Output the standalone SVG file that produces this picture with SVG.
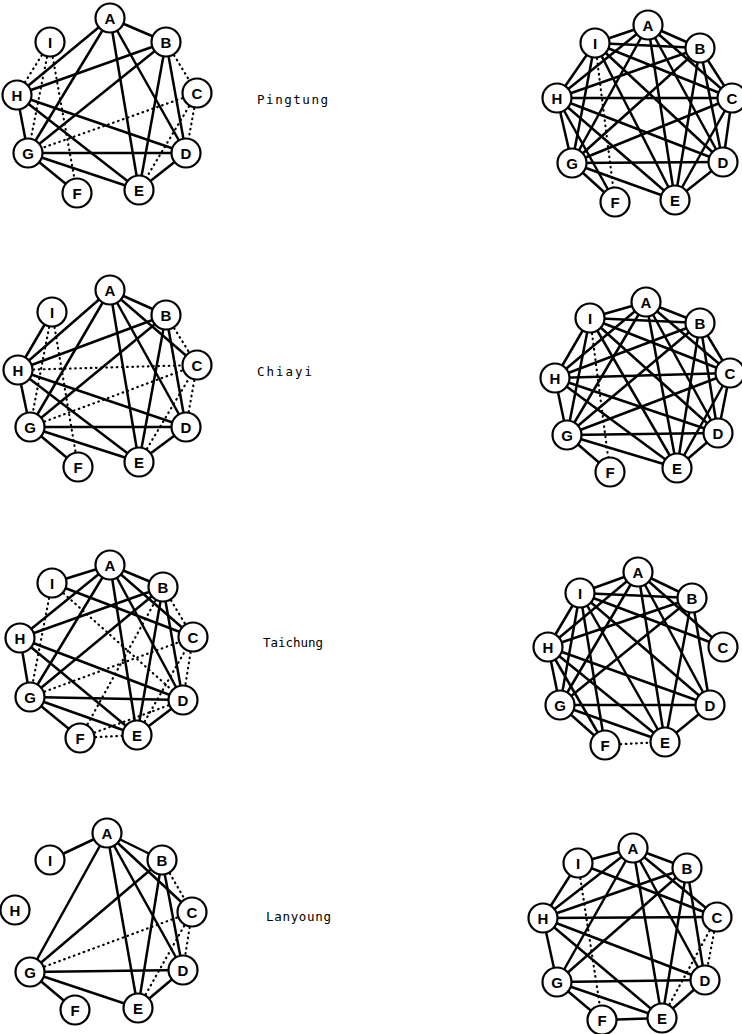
<svg xmlns="http://www.w3.org/2000/svg" width="742" height="1034" viewBox="0 0 742 1034">
<style>
.s{stroke:#000;stroke-width:2.5;fill:none}
.d{stroke:#000;stroke-width:2.2;fill:none;stroke-dasharray:0.6 4.6;stroke-linecap:round}
.n circle{fill:#fff;stroke:#000;stroke-width:2.2}
.n text{font-family:"Liberation Sans",Arial,sans-serif;font-weight:bold;font-size:15px;text-anchor:middle;fill:#000}
.lbl{font-family:"DejaVu Sans Mono","Liberation Mono",monospace;font-size:12.5px;fill:#000}
</style>
<rect width="742" height="1034" fill="#fff"/>
<g id="connectors">
<g id="c-pingtung-left">
<line class="s" x1="110" y1="18" x2="166" y2="42"/><line class="s" x1="110" y1="18" x2="17" y2="95"/><line class="s" x1="110" y1="18" x2="28" y2="153"/><line class="s" x1="110" y1="18" x2="139" y2="190"/><line class="s" x1="110" y1="18" x2="186" y2="153"/>
<line class="s" x1="166" y1="42" x2="17" y2="95"/><line class="s" x1="166" y1="42" x2="28" y2="153"/><line class="s" x1="166" y1="42" x2="139" y2="190"/><line class="s" x1="166" y1="42" x2="186" y2="153"/>
<line class="s" x1="17" y1="95" x2="28" y2="153"/><line class="s" x1="17" y1="95" x2="186" y2="153"/><line class="s" x1="17" y1="95" x2="139" y2="190"/>
<line class="s" x1="28" y1="153" x2="186" y2="153"/><line class="s" x1="28" y1="153" x2="139" y2="190"/><line class="s" x1="28" y1="153" x2="77" y2="193"/><line class="s" x1="186" y1="153" x2="139" y2="190"/>
<line class="d" x1="50" y1="42" x2="17" y2="95"/><line class="d" x1="50" y1="42" x2="28" y2="153"/><line class="d" x1="50" y1="42" x2="77" y2="193"/><line class="d" x1="166" y1="42" x2="197" y2="93"/><line class="d" x1="197" y1="93" x2="186" y2="153"/><line class="d" x1="197" y1="93" x2="28" y2="153"/><line class="d" x1="197" y1="93" x2="139" y2="190"/>
</g>
<g id="c-pingtung-right">
<line class="s" x1="648" y1="25" x2="595" y2="43"/><line class="s" x1="648" y1="25" x2="700" y2="48"/><line class="s" x1="648" y1="25" x2="557" y2="98"/><line class="s" x1="648" y1="25" x2="572" y2="163"/><line class="s" x1="648" y1="25" x2="675" y2="200"/><line class="s" x1="648" y1="25" x2="723" y2="162"/><line class="s" x1="648" y1="25" x2="732" y2="98"/>
<line class="s" x1="595" y1="43" x2="700" y2="48"/><line class="s" x1="595" y1="43" x2="732" y2="98"/><line class="s" x1="595" y1="43" x2="723" y2="162"/><line class="s" x1="595" y1="43" x2="675" y2="200"/><line class="s" x1="595" y1="43" x2="557" y2="98"/><line class="s" x1="595" y1="43" x2="572" y2="163"/>
<line class="s" x1="557" y1="98" x2="732" y2="98"/><line class="s" x1="557" y1="98" x2="700" y2="48"/><line class="s" x1="557" y1="98" x2="723" y2="162"/><line class="s" x1="557" y1="98" x2="675" y2="200"/><line class="s" x1="557" y1="98" x2="572" y2="163"/><line class="s" x1="557" y1="98" x2="615" y2="202"/>
<line class="s" x1="572" y1="163" x2="700" y2="48"/><line class="s" x1="572" y1="163" x2="732" y2="98"/><line class="s" x1="572" y1="163" x2="723" y2="162"/><line class="s" x1="572" y1="163" x2="675" y2="200"/><line class="s" x1="572" y1="163" x2="615" y2="202"/>
<line class="s" x1="700" y1="48" x2="732" y2="98"/><line class="s" x1="700" y1="48" x2="723" y2="162"/><line class="s" x1="700" y1="48" x2="675" y2="200"/><line class="s" x1="732" y1="98" x2="723" y2="162"/><line class="s" x1="732" y1="98" x2="675" y2="200"/><line class="s" x1="723" y1="162" x2="675" y2="200"/>
<line class="d" x1="595" y1="43" x2="615" y2="202"/>
</g>
<g id="c-chiayi-left">
<line class="s" x1="110" y1="290" x2="166" y2="315"/><line class="s" x1="110" y1="290" x2="18" y2="370"/><line class="s" x1="110" y1="290" x2="30" y2="427"/><line class="s" x1="110" y1="290" x2="139" y2="462"/><line class="s" x1="110" y1="290" x2="186" y2="427"/><line class="s" x1="110" y1="290" x2="197" y2="365"/>
<line class="s" x1="52" y1="312" x2="18" y2="370"/><line class="s" x1="166" y1="315" x2="18" y2="370"/><line class="s" x1="166" y1="315" x2="30" y2="427"/><line class="s" x1="166" y1="315" x2="139" y2="462"/><line class="s" x1="166" y1="315" x2="186" y2="427"/>
<line class="s" x1="18" y1="370" x2="30" y2="427"/><line class="s" x1="18" y1="370" x2="186" y2="427"/><line class="s" x1="18" y1="370" x2="139" y2="462"/><line class="s" x1="30" y1="427" x2="186" y2="427"/><line class="s" x1="30" y1="427" x2="139" y2="462"/><line class="s" x1="30" y1="427" x2="78" y2="467"/><line class="s" x1="186" y1="427" x2="139" y2="462"/>
<line class="d" x1="52" y1="312" x2="78" y2="467"/><line class="d" x1="52" y1="312" x2="30" y2="427"/><line class="d" x1="18" y1="370" x2="197" y2="365"/><line class="d" x1="166" y1="315" x2="197" y2="365"/><line class="d" x1="197" y1="365" x2="186" y2="427"/><line class="d" x1="30" y1="427" x2="197" y2="365"/><line class="d" x1="139" y1="462" x2="197" y2="365"/>
</g>
<g id="c-chiayi-right">
<line class="s" x1="646" y1="302" x2="590" y2="318"/><line class="s" x1="646" y1="302" x2="700" y2="323"/><line class="s" x1="646" y1="302" x2="555" y2="378"/><line class="s" x1="646" y1="302" x2="567" y2="435"/><line class="s" x1="646" y1="302" x2="677" y2="468"/><line class="s" x1="646" y1="302" x2="718" y2="433"/><line class="s" x1="646" y1="302" x2="730" y2="373"/>
<line class="s" x1="590" y1="318" x2="700" y2="323"/><line class="s" x1="590" y1="318" x2="730" y2="373"/><line class="s" x1="590" y1="318" x2="718" y2="433"/><line class="s" x1="590" y1="318" x2="677" y2="468"/><line class="s" x1="590" y1="318" x2="555" y2="378"/><line class="s" x1="590" y1="318" x2="567" y2="435"/>
<line class="s" x1="555" y1="378" x2="730" y2="373"/><line class="s" x1="555" y1="378" x2="700" y2="323"/><line class="s" x1="555" y1="378" x2="718" y2="433"/><line class="s" x1="555" y1="378" x2="677" y2="468"/><line class="s" x1="555" y1="378" x2="567" y2="435"/>
<line class="s" x1="567" y1="435" x2="700" y2="323"/><line class="s" x1="567" y1="435" x2="730" y2="373"/><line class="s" x1="567" y1="435" x2="718" y2="433"/><line class="s" x1="567" y1="435" x2="677" y2="468"/><line class="s" x1="567" y1="435" x2="610" y2="472"/>
<line class="s" x1="700" y1="323" x2="730" y2="373"/><line class="s" x1="700" y1="323" x2="718" y2="433"/><line class="s" x1="700" y1="323" x2="677" y2="468"/><line class="s" x1="730" y1="373" x2="718" y2="433"/><line class="s" x1="730" y1="373" x2="677" y2="468"/><line class="s" x1="718" y1="433" x2="677" y2="468"/>
<line class="d" x1="590" y1="318" x2="610" y2="472"/>
</g>
<g id="c-taichung-left">
<line class="s" x1="110" y1="565" x2="52" y2="583"/><line class="s" x1="110" y1="565" x2="163" y2="587"/><line class="s" x1="110" y1="565" x2="20" y2="638"/><line class="s" x1="110" y1="565" x2="30" y2="697"/><line class="s" x1="110" y1="565" x2="137" y2="735"/><line class="s" x1="110" y1="565" x2="183" y2="700"/><line class="s" x1="110" y1="565" x2="193" y2="637"/>
<line class="s" x1="52" y1="583" x2="193" y2="637"/><line class="s" x1="163" y1="587" x2="20" y2="638"/><line class="s" x1="163" y1="587" x2="30" y2="697"/><line class="s" x1="163" y1="587" x2="137" y2="735"/><line class="s" x1="163" y1="587" x2="183" y2="700"/>
<line class="s" x1="20" y1="638" x2="30" y2="697"/><line class="s" x1="20" y1="638" x2="183" y2="700"/><line class="s" x1="20" y1="638" x2="137" y2="735"/><line class="s" x1="30" y1="697" x2="183" y2="700"/><line class="s" x1="30" y1="697" x2="137" y2="735"/><line class="s" x1="30" y1="697" x2="80" y2="738"/><line class="s" x1="183" y1="700" x2="137" y2="735"/>
<line class="d" x1="163" y1="587" x2="193" y2="637"/><line class="d" x1="193" y1="637" x2="183" y2="700"/><line class="d" x1="80" y1="738" x2="137" y2="735"/><line class="d" x1="52" y1="583" x2="183" y2="700"/><line class="d" x1="52" y1="583" x2="30" y2="697"/><line class="d" x1="30" y1="697" x2="193" y2="637"/><line class="d" x1="80" y1="738" x2="183" y2="700"/><line class="d" x1="137" y1="735" x2="193" y2="637"/><line class="d" x1="163" y1="587" x2="80" y2="738"/>
</g>
<g id="c-taichung-right">
<line class="s" x1="638" y1="572" x2="580" y2="593"/><line class="s" x1="638" y1="572" x2="692" y2="598"/><line class="s" x1="638" y1="572" x2="548" y2="647"/><line class="s" x1="638" y1="572" x2="560" y2="705"/><line class="s" x1="638" y1="572" x2="665" y2="742"/><line class="s" x1="638" y1="572" x2="710" y2="705"/><line class="s" x1="638" y1="572" x2="723" y2="647"/>
<line class="s" x1="580" y1="593" x2="692" y2="598"/><line class="s" x1="580" y1="593" x2="723" y2="647"/><line class="s" x1="580" y1="593" x2="710" y2="705"/><line class="s" x1="580" y1="593" x2="665" y2="742"/><line class="s" x1="580" y1="593" x2="605" y2="745"/><line class="s" x1="580" y1="593" x2="560" y2="705"/><line class="s" x1="580" y1="593" x2="548" y2="647"/>
<line class="s" x1="548" y1="647" x2="692" y2="598"/><line class="s" x1="548" y1="647" x2="710" y2="705"/><line class="s" x1="548" y1="647" x2="665" y2="742"/><line class="s" x1="548" y1="647" x2="560" y2="705"/><line class="s" x1="548" y1="647" x2="605" y2="745"/>
<line class="s" x1="560" y1="705" x2="692" y2="598"/><line class="s" x1="560" y1="705" x2="710" y2="705"/><line class="s" x1="560" y1="705" x2="665" y2="742"/><line class="s" x1="560" y1="705" x2="605" y2="745"/>
<line class="s" x1="692" y1="598" x2="710" y2="705"/><line class="s" x1="692" y1="598" x2="665" y2="742"/><line class="s" x1="710" y1="705" x2="665" y2="742"/>
<line class="d" x1="605" y1="745" x2="665" y2="742"/>
</g>
<g id="c-lanyoung-left">
<line class="s" x1="107" y1="833" x2="50" y2="860"/><line class="s" x1="107" y1="833" x2="162" y2="860"/><line class="s" x1="107" y1="833" x2="30" y2="972"/><line class="s" x1="107" y1="833" x2="138" y2="1008"/><line class="s" x1="107" y1="833" x2="183" y2="970"/><line class="s" x1="107" y1="833" x2="192" y2="912"/>
<line class="s" x1="162" y1="860" x2="30" y2="972"/><line class="s" x1="162" y1="860" x2="138" y2="1008"/><line class="s" x1="162" y1="860" x2="183" y2="970"/>
<line class="s" x1="30" y1="972" x2="183" y2="970"/><line class="s" x1="30" y1="972" x2="138" y2="1008"/><line class="s" x1="30" y1="972" x2="75" y2="1010"/><line class="s" x1="183" y1="970" x2="138" y2="1008"/>
<line class="d" x1="162" y1="860" x2="192" y2="912"/><line class="d" x1="192" y1="912" x2="183" y2="970"/><line class="d" x1="30" y1="972" x2="192" y2="912"/><line class="d" x1="138" y1="1008" x2="192" y2="912"/>
</g>
<g id="c-lanyoung-right">
<line class="s" x1="633" y1="848" x2="578" y2="863"/><line class="s" x1="633" y1="848" x2="687" y2="868"/><line class="s" x1="633" y1="848" x2="543" y2="918"/><line class="s" x1="633" y1="848" x2="557" y2="982"/><line class="s" x1="633" y1="848" x2="662" y2="1018"/><line class="s" x1="633" y1="848" x2="705" y2="980"/><line class="s" x1="633" y1="848" x2="717" y2="917"/>
<line class="s" x1="578" y1="863" x2="543" y2="918"/><line class="s" x1="578" y1="863" x2="717" y2="917"/>
<line class="s" x1="543" y1="918" x2="687" y2="868"/><line class="s" x1="543" y1="918" x2="717" y2="917"/><line class="s" x1="543" y1="918" x2="705" y2="980"/><line class="s" x1="543" y1="918" x2="662" y2="1018"/><line class="s" x1="543" y1="918" x2="557" y2="982"/>
<line class="s" x1="557" y1="982" x2="687" y2="868"/><line class="s" x1="557" y1="982" x2="705" y2="980"/><line class="s" x1="557" y1="982" x2="662" y2="1018"/><line class="s" x1="557" y1="982" x2="602" y2="1020"/>
<line class="s" x1="687" y1="868" x2="662" y2="1018"/><line class="s" x1="687" y1="868" x2="705" y2="980"/><line class="s" x1="705" y1="980" x2="662" y2="1018"/><line class="s" x1="662" y1="1018" x2="602" y2="1020"/>
<line class="d" x1="578" y1="863" x2="602" y2="1020"/><line class="d" x1="717" y1="917" x2="705" y2="980"/><line class="d" x1="717" y1="917" x2="662" y2="1018"/>
</g>
</g>

<g id="pingtung-left">
<g id="pl-A" class="n"><circle cx="110" cy="18" r="14.5"/><text x="110" y="23.5">A</text></g>
<g id="pl-B" class="n"><circle cx="166" cy="42" r="14.5"/><text x="166" y="47.5">B</text></g>
<g id="pl-C" class="n"><circle cx="197" cy="93" r="14.5"/><text x="197" y="98.5">C</text></g>
<g id="pl-D" class="n"><circle cx="186" cy="153" r="14.5"/><text x="186" y="158.5">D</text></g>
<g id="pl-E" class="n"><circle cx="139" cy="190" r="14.5"/><text x="139" y="195.5">E</text></g>
<g id="pl-F" class="n"><circle cx="77" cy="193" r="14.5"/><text x="77" y="198.5">F</text></g>
<g id="pl-G" class="n"><circle cx="28" cy="153" r="14.5"/><text x="28" y="158.5">G</text></g>
<g id="pl-H" class="n"><circle cx="17" cy="95" r="14.5"/><text x="17" y="100.5">H</text></g>
<g id="pl-I" class="n"><circle cx="50" cy="42" r="14.5"/><text x="50" y="47.5">I</text></g>
</g>
<g id="pingtung-right">
<g id="pr-A" class="n"><circle cx="648" cy="25" r="14.5"/><text x="648" y="30.5">A</text></g>
<g id="pr-B" class="n"><circle cx="700" cy="48" r="14.5"/><text x="700" y="53.5">B</text></g>
<g id="pr-C" class="n"><circle cx="732" cy="98" r="14.5"/><text x="732" y="103.5">C</text></g>
<g id="pr-D" class="n"><circle cx="723" cy="162" r="14.5"/><text x="723" y="167.5">D</text></g>
<g id="pr-E" class="n"><circle cx="675" cy="200" r="14.5"/><text x="675" y="205.5">E</text></g>
<g id="pr-F" class="n"><circle cx="615" cy="202" r="14.5"/><text x="615" y="207.5">F</text></g>
<g id="pr-G" class="n"><circle cx="572" cy="163" r="14.5"/><text x="572" y="168.5">G</text></g>
<g id="pr-H" class="n"><circle cx="557" cy="98" r="14.5"/><text x="557" y="103.5">H</text></g>
<g id="pr-I" class="n"><circle cx="595" cy="43" r="14.5"/><text x="595" y="48.5">I</text></g>
</g>
<g id="chiayi-left">
<g id="cl-A" class="n"><circle cx="110" cy="290" r="14.5"/><text x="110" y="295.5">A</text></g>
<g id="cl-B" class="n"><circle cx="166" cy="315" r="14.5"/><text x="166" y="320.5">B</text></g>
<g id="cl-C" class="n"><circle cx="197" cy="365" r="14.5"/><text x="197" y="370.5">C</text></g>
<g id="cl-D" class="n"><circle cx="186" cy="427" r="14.5"/><text x="186" y="432.5">D</text></g>
<g id="cl-E" class="n"><circle cx="139" cy="462" r="14.5"/><text x="139" y="467.5">E</text></g>
<g id="cl-F" class="n"><circle cx="78" cy="467" r="14.5"/><text x="78" y="472.5">F</text></g>
<g id="cl-G" class="n"><circle cx="30" cy="427" r="14.5"/><text x="30" y="432.5">G</text></g>
<g id="cl-H" class="n"><circle cx="18" cy="370" r="14.5"/><text x="18" y="375.5">H</text></g>
<g id="cl-I" class="n"><circle cx="52" cy="312" r="14.5"/><text x="52" y="317.5">I</text></g>
</g>
<g id="chiayi-right">
<g id="cr-A" class="n"><circle cx="646" cy="302" r="14.5"/><text x="646" y="307.5">A</text></g>
<g id="cr-B" class="n"><circle cx="700" cy="323" r="14.5"/><text x="700" y="328.5">B</text></g>
<g id="cr-C" class="n"><circle cx="730" cy="373" r="14.5"/><text x="730" y="378.5">C</text></g>
<g id="cr-D" class="n"><circle cx="718" cy="433" r="14.5"/><text x="718" y="438.5">D</text></g>
<g id="cr-E" class="n"><circle cx="677" cy="468" r="14.5"/><text x="677" y="473.5">E</text></g>
<g id="cr-F" class="n"><circle cx="610" cy="472" r="14.5"/><text x="610" y="477.5">F</text></g>
<g id="cr-G" class="n"><circle cx="567" cy="435" r="14.5"/><text x="567" y="440.5">G</text></g>
<g id="cr-H" class="n"><circle cx="555" cy="378" r="14.5"/><text x="555" y="383.5">H</text></g>
<g id="cr-I" class="n"><circle cx="590" cy="318" r="14.5"/><text x="590" y="323.5">I</text></g>
</g>
<g id="taichung-left">
<g id="tl-A" class="n"><circle cx="110" cy="565" r="14.5"/><text x="110" y="570.5">A</text></g>
<g id="tl-B" class="n"><circle cx="163" cy="587" r="14.5"/><text x="163" y="592.5">B</text></g>
<g id="tl-C" class="n"><circle cx="193" cy="637" r="14.5"/><text x="193" y="642.5">C</text></g>
<g id="tl-D" class="n"><circle cx="183" cy="700" r="14.5"/><text x="183" y="705.5">D</text></g>
<g id="tl-E" class="n"><circle cx="137" cy="735" r="14.5"/><text x="137" y="740.5">E</text></g>
<g id="tl-F" class="n"><circle cx="80" cy="738" r="14.5"/><text x="80" y="743.5">F</text></g>
<g id="tl-G" class="n"><circle cx="30" cy="697" r="14.5"/><text x="30" y="702.5">G</text></g>
<g id="tl-H" class="n"><circle cx="20" cy="638" r="14.5"/><text x="20" y="643.5">H</text></g>
<g id="tl-I" class="n"><circle cx="52" cy="583" r="14.5"/><text x="52" y="588.5">I</text></g>
</g>
<g id="taichung-right">
<g id="tr-A" class="n"><circle cx="638" cy="572" r="14.5"/><text x="638" y="577.5">A</text></g>
<g id="tr-B" class="n"><circle cx="692" cy="598" r="14.5"/><text x="692" y="603.5">B</text></g>
<g id="tr-C" class="n"><circle cx="723" cy="647" r="14.5"/><text x="723" y="652.5">C</text></g>
<g id="tr-D" class="n"><circle cx="710" cy="705" r="14.5"/><text x="710" y="710.5">D</text></g>
<g id="tr-E" class="n"><circle cx="665" cy="742" r="14.5"/><text x="665" y="747.5">E</text></g>
<g id="tr-F" class="n"><circle cx="605" cy="745" r="14.5"/><text x="605" y="750.5">F</text></g>
<g id="tr-G" class="n"><circle cx="560" cy="705" r="14.5"/><text x="560" y="710.5">G</text></g>
<g id="tr-H" class="n"><circle cx="548" cy="647" r="14.5"/><text x="548" y="652.5">H</text></g>
<g id="tr-I" class="n"><circle cx="580" cy="593" r="14.5"/><text x="580" y="598.5">I</text></g>
</g>
<g id="lanyoung-left">
<g id="ll-A" class="n"><circle cx="107" cy="833" r="14.5"/><text x="107" y="838.5">A</text></g>
<g id="ll-B" class="n"><circle cx="162" cy="860" r="14.5"/><text x="162" y="865.5">B</text></g>
<g id="ll-C" class="n"><circle cx="192" cy="912" r="14.5"/><text x="192" y="917.5">C</text></g>
<g id="ll-D" class="n"><circle cx="183" cy="970" r="14.5"/><text x="183" y="975.5">D</text></g>
<g id="ll-E" class="n"><circle cx="138" cy="1008" r="14.5"/><text x="138" y="1013.5">E</text></g>
<g id="ll-F" class="n"><circle cx="75" cy="1010" r="14.5"/><text x="75" y="1015.5">F</text></g>
<g id="ll-G" class="n"><circle cx="30" cy="972" r="14.5"/><text x="30" y="977.5">G</text></g>
<g id="ll-H" class="n"><circle cx="15" cy="910" r="14.5"/><text x="15" y="915.5">H</text></g>
<g id="ll-I" class="n"><circle cx="50" cy="860" r="14.5"/><text x="50" y="865.5">I</text></g>
</g>
<g id="lanyoung-right">
<g id="lr-A" class="n"><circle cx="633" cy="848" r="14.5"/><text x="633" y="853.5">A</text></g>
<g id="lr-B" class="n"><circle cx="687" cy="868" r="14.5"/><text x="687" y="873.5">B</text></g>
<g id="lr-C" class="n"><circle cx="717" cy="917" r="14.5"/><text x="717" y="922.5">C</text></g>
<g id="lr-D" class="n"><circle cx="705" cy="980" r="14.5"/><text x="705" y="985.5">D</text></g>
<g id="lr-E" class="n"><circle cx="662" cy="1018" r="14.5"/><text x="662" y="1023.5">E</text></g>
<g id="lr-F" class="n"><circle cx="602" cy="1020" r="14.5"/><text x="602" y="1025.5">F</text></g>
<g id="lr-G" class="n"><circle cx="557" cy="982" r="14.5"/><text x="557" y="987.5">G</text></g>
<g id="lr-H" class="n"><circle cx="543" cy="918" r="14.5"/><text x="543" y="923.5">H</text></g>
<g id="lr-I" class="n"><circle cx="578" cy="863" r="14.5"/><text x="578" y="868.5">I</text></g>
</g>

<g id="labels">
<text class="lbl" x="257" y="104" textLength="71" lengthAdjust="spacing">Pingtung</text>
<text class="lbl" x="257" y="376" textLength="55" lengthAdjust="spacing">Chiayi</text>
<text class="lbl" x="263" y="647" textLength="60" lengthAdjust="spacing">Taichung</text>
<text class="lbl" x="266" y="921" textLength="65" lengthAdjust="spacing">Lanyoung</text>
</g>
</svg>
